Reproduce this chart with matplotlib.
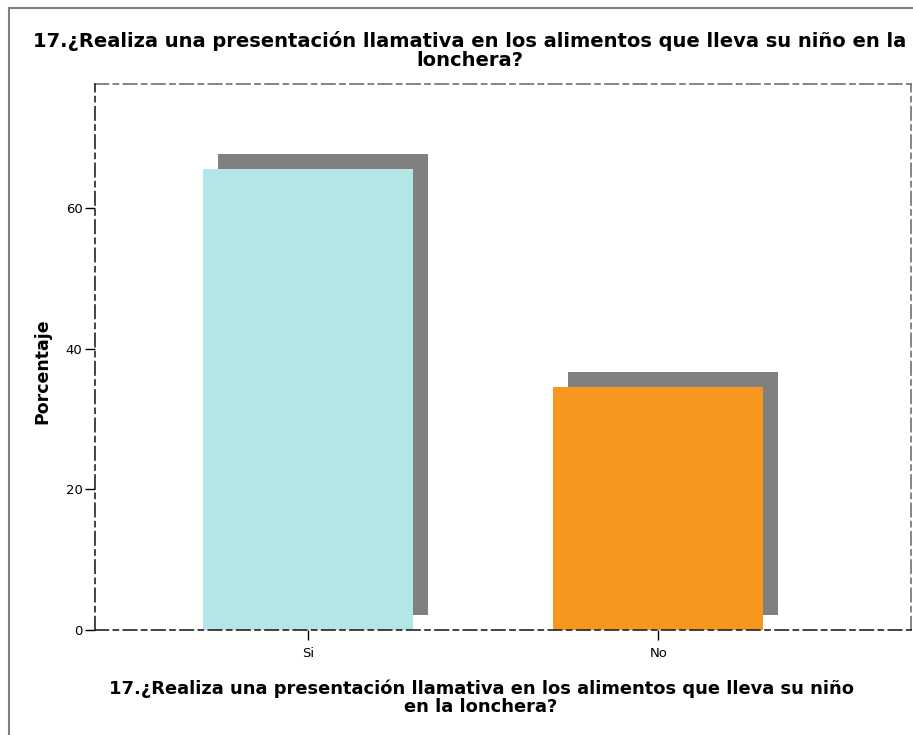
import matplotlib.pyplot as plt
import matplotlib.transforms as mtransforms
from matplotlib.patches import Rectangle

plt.rcParams['font.family'] = ['DejaVu Sans']

categorias = ['Si', 'No']
porcentajes = [65.5, 34.5]
colores = ['#b4e5e7', '#f7971e']
titulo = '17.¿Realiza una presentación llamativa en los alimentos que lleva su niño en la\nlonchera?'
etiqueta_x = '17.¿Realiza una presentación llamativa en los alimentos que lleva su niño\nen la lonchera?'

fig = plt.figure(figsize=(9.13, 7.35), dpi=100)

# marco exterior
fig.patches.append(Rectangle((9 / 913, -0.1), 1.2, 1.1 - 8 / 735, transform=fig.transFigure,
                             fill=False, edgecolor='#808080', lw=1.5))

ax = fig.add_axes([95 / 913, 105 / 735, 816 / 913, 546 / 735])
x = list(range(len(categorias)))

# sombra desplazada 15 px arriba/derecha
sombra = ax.transData + mtransforms.ScaledTranslation(15 / 100, 15 / 100, fig.dpi_scale_trans)
ax.bar(x, porcentajes, width=0.6, color='#808080', transform=sombra, zorder=1)
ax.bar(x, porcentajes, width=0.6, color=colores, zorder=2)

ax.set_xlim(-0.61, 1.722)
ax.set_ylim(0, 77.6)
ax.set_yticks([0, 20, 40, 60])
ax.set_xticks(x)
ax.set_xticklabels(categorias)
ax.tick_params(labelsize=9.5, length=7, width=1, colors='black', pad=2)
ax.tick_params(axis='x', pad=5)

for lado in ['left', 'bottom', 'top', 'right']:
    ax.spines[lado].set_linestyle((0, (8, 3, 3, 3)))
    ax.spines[lado].set_linewidth(1.2)
for lado in ['top', 'right']:
    ax.spines[lado].set_color('#707070')
ax.spines['left'].set_color('#222222')
ax.spines['bottom'].set_color('#222222')
for lado in ['left', 'bottom']:
    ax.spines[lado].set_zorder(3)

ax.set_ylabel('Porcentaje', fontsize=12.5, fontweight='bold')
ax.yaxis.set_label_coords(-0.054, 0.474)
fig.text(470 / 913, 1 - 31 / 735, titulo, ha='center', va='top', fontsize=14,
         fontweight='bold', linespacing=1.0)
fig.text(481 / 913, 1 - 680 / 735, etiqueta_x, ha='center', va='top', fontsize=12.9,
         fontweight='bold', linespacing=0.98)

fig.savefig('out.png', dpi=100)
